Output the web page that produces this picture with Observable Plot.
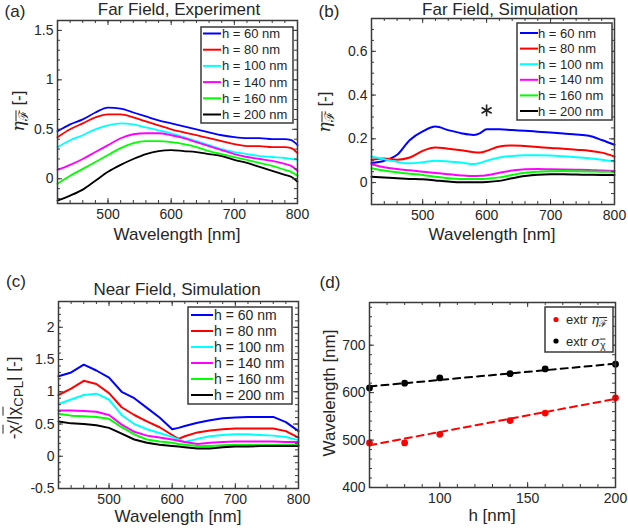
<!DOCTYPE html>
<html><head><meta charset="utf-8">
<script src="https://cdn.jsdelivr.net/npm/d3@7"></script>
<script src="https://cdn.jsdelivr.net/npm/@observablehq/plot@0.6"></script>
<style>
body{margin:0;background:#fff;font-family:"Liberation Sans",Arial,Helvetica,sans-serif;color:#262626}
#fig{position:relative;width:628px;height:531px;overflow:hidden;background:#fff}
#fig svg{position:absolute;left:0;top:0}
.lbl{position:absolute;white-space:nowrap;color:#262626;line-height:1}
.ovl{text-decoration:overline}
sub{font-size:0.78em;vertical-align:-0.35em;line-height:0}
</style></head><body><div id="fig"></div>
<script>
// ---------- data ----------
const hLabels = ["h = 60 nm","h = 80 nm","h = 100 nm","h = 140 nm","h = 160 nm","h = 200 nm"];
const lineColors = ["#0000ff","#ff0000","#00ffff","#ff00ff","#00ff00","#000000"];

// (a) Far field, experiment
const wlA = [420,440,460,480,500,520,540,560,580,600,620,640,660,680,700,720,740,760,780,790,800];
const expH60  = [0.48,0.55,0.60,0.67,0.72,0.71,0.67,0.63,0.59,0.56,0.53,0.50,0.47,0.44,0.42,0.41,0.41,0.40,0.40,0.39,0.34];
const expH80  = [0.42,0.50,0.56,0.62,0.65,0.65,0.62,0.58,0.54,0.50,0.47,0.44,0.41,0.38,0.35,0.33,0.33,0.32,0.32,0.31,0.26];
const expH100 = [0.32,0.39,0.44,0.50,0.54,0.56,0.55,0.52,0.49,0.46,0.42,0.38,0.34,0.30,0.27,0.25,0.23,0.22,0.21,0.20,0.19];
const expH140 = [0.09,0.14,0.20,0.27,0.34,0.41,0.45,0.46,0.46,0.44,0.41,0.37,0.33,0.29,0.25,0.22,0.20,0.18,0.15,0.13,0.08];
const expH160 = [-0.05,0.03,0.10,0.17,0.24,0.31,0.36,0.38,0.38,0.37,0.35,0.32,0.28,0.25,0.22,0.19,0.16,0.13,0.09,0.07,0.03];
const expH200 = [-0.22,-0.17,-0.11,-0.02,0.07,0.14,0.20,0.25,0.28,0.29,0.28,0.27,0.25,0.23,0.19,0.16,0.12,0.08,0.04,0.02,-0.03];

// (b) Far field, simulation
const wlB = [420,440,460,480,500,520,540,560,580,590,600,620,640,660,680,700,720,740,760,780,800];
const simH60  = [0.090,0.100,0.127,0.195,0.234,0.256,0.240,0.226,0.218,0.226,0.244,0.244,0.240,0.237,0.233,0.229,0.224,0.220,0.214,0.195,0.173];
const simH80  = [0.104,0.110,0.105,0.115,0.145,0.160,0.155,0.148,0.139,0.138,0.145,0.165,0.170,0.167,0.163,0.158,0.155,0.150,0.146,0.137,0.119];
const simH100 = [0.119,0.107,0.095,0.088,0.093,0.100,0.097,0.092,0.085,0.090,0.100,0.115,0.122,0.125,0.125,0.124,0.120,0.116,0.111,0.104,0.096];
const simH140 = [0.084,0.070,0.062,0.056,0.050,0.044,0.038,0.033,0.030,0.031,0.034,0.045,0.055,0.061,0.062,0.061,0.060,0.059,0.058,0.055,0.053];
const simH160 = [0.066,0.055,0.047,0.040,0.035,0.027,0.020,0.017,0.017,0.017,0.018,0.024,0.035,0.045,0.050,0.052,0.053,0.052,0.051,0.050,0.050];
const simH200 = [0.027,0.023,0.020,0.017,0.015,0.010,0.005,0.002,0.002,0.002,0.003,0.008,0.020,0.030,0.036,0.038,0.038,0.037,0.036,0.035,0.035];
const starWl = [600];
const starVal = [0.33];

// (c) Near field, simulation
const wlC = [420,440,460,480,500,520,540,560,580,600,610,620,640,660,680,700,720,740,760,780,800];
const nfH60  = [1.24,1.30,1.42,1.33,1.22,1.00,0.90,0.75,0.60,0.42,0.44,0.47,0.52,0.56,0.59,0.60,0.61,0.61,0.61,0.53,0.39];
const nfH80  = [0.95,1.05,1.17,1.12,0.98,0.76,0.64,0.54,0.45,0.33,0.27,0.31,0.37,0.40,0.42,0.43,0.43,0.43,0.43,0.39,0.29];
const nfH100 = [0.81,0.88,0.95,0.97,0.88,0.64,0.50,0.42,0.36,0.30,0.26,0.22,0.27,0.31,0.33,0.34,0.34,0.33,0.32,0.30,0.25];
const nfH140 = [0.71,0.71,0.70,0.69,0.64,0.49,0.38,0.32,0.29,0.26,0.24,0.22,0.19,0.21,0.22,0.23,0.23,0.23,0.23,0.22,0.22];
const nfH160 = [0.66,0.63,0.62,0.61,0.58,0.45,0.34,0.26,0.23,0.21,0.19,0.18,0.16,0.16,0.17,0.18,0.18,0.18,0.18,0.18,0.18];
const nfH200 = [0.54,0.51,0.50,0.48,0.44,0.35,0.26,0.21,0.18,0.16,0.15,0.14,0.12,0.12,0.14,0.15,0.15,0.16,0.16,0.16,0.16];

// (d) extrema wavelength vs h
const hNm = [60,80,100,140,160,200];
const extrEta = [494,494,512,541,557,589];
const extrSigma = [610,620,631,640,650,660];
const fitH = [60,200];
const fitEta = [489,587];
const fitSigma = [613,661];

// ticks
const ticksWl = [500,600,700,800];
const minorWl = d3.range(420,801,20);
const ticksA = [0,0.5,1,1.5];
const minorA = d3.range(-0.2,1.61,0.1).map(v=>+v.toFixed(2));
const ticksB = [0,0.2,0.4,0.6];
const minorB = d3.range(-0.1,0.751,0.05).map(v=>+v.toFixed(2));
const ticksC = [-0.5,0,0.5,1,1.5,2];
const minorC = d3.range(-0.5,2.41,0.1).map(v=>+v.toFixed(2));
const ticksDx = [100,150,200];
const minorDx = d3.range(60,201,10);
const ticksDy = [400,500,600,700];
const minorDy = d3.range(400,781,20);

// ---------- drawing ----------
const fig = document.getElementById("fig");
const W = 628, H = 531;
const FONT = '"Liberation Sans", Arial, Helvetica, sans-serif';
const INK = "#262626", FRAME = "#3a3a3a";

function rows(grid, series){
  return series.flatMap((vals,i)=>vals.map((v,j)=>({x:grid[j], y:v, s:hLabels[i]})));
}

function panel({frame, x, y, xMajor, xMinor, yMajor, yMinor, marks, xPad=6, yPad=4}){
  const [l,t,r,b] = frame;
  const iw = r-l, ih = b-t, M = 5, m = 3;
  const tk = {stroke: FRAME, strokeWidth: 1};
  const plot = Plot.plot({
    width: W, height: H,
    marginLeft: l, marginTop: t, marginRight: W-r, marginBottom: H-b,
    x: {domain: x}, y: {domain: y},
    color: {domain: hLabels, range: lineColors},
    style: {fontFamily: FONT, fontSize: "14px", color: INK, background: "transparent", overflow: "visible"},
    marks: [
      ...marks,
      Plot.tickX(xMinor, {x: d=>d, insetTop: ih-m, ...tk}),
      Plot.tickX(xMinor, {x: d=>d, insetBottom: ih-m, ...tk}),
      Plot.tickX(xMajor, {x: d=>d, insetTop: ih-M, ...tk}),
      Plot.tickX(xMajor, {x: d=>d, insetBottom: ih-M, ...tk}),
      Plot.tickY(yMinor, {y: d=>d, insetRight: iw-m, ...tk}),
      Plot.tickY(yMinor, {y: d=>d, insetLeft: iw-m, ...tk}),
      Plot.tickY(yMajor, {y: d=>d, insetRight: iw-M, ...tk}),
      Plot.tickY(yMajor, {y: d=>d, insetLeft: iw-M, ...tk}),
      Plot.frame({stroke: FRAME, strokeWidth: 1.5}),
      Plot.axisX({ticks: xMajor, tickSize: 0, tickPadding: xPad, tickFormat: d=>String(d), label: null}),
      Plot.axisY({ticks: yMajor, tickSize: 0, tickPadding: yPad, tickFormat: d=>String(d), label: null})
    ]
  });
  fig.appendChild(plot);
  return d3.select(plot);
}

function hLegend(svg, {box, y0, step, x1, x2, tx, size}){
  const g = svg.append("g").attr("text-anchor","start");
  g.append("rect").attr("x",box[0]).attr("y",box[1]).attr("width",box[2]-box[0]).attr("height",box[3]-box[1])
    .attr("fill","#fff").attr("stroke",FRAME).attr("stroke-width",1.5);
  hLabels.forEach((lab,i)=>{
    const yy = y0 + i*step;
    g.append("line").attr("x1",x1).attr("x2",x2).attr("y1",yy).attr("y2",yy)
      .attr("stroke",lineColors[i]).attr("stroke-width",2);
    g.append("text").attr("x",tx).attr("y",yy).attr("dy","0.35em").attr("text-anchor","start")
      .attr("font-size",size).attr("fill",INK).attr("font-family",FONT).text(lab);
  });
}

function label(html, cx, cy, opts={}){
  const d = document.createElement("div");
  d.className = "lbl";
  d.innerHTML = html;
  d.style.left = cx+"px"; d.style.top = cy+"px";
  d.style.fontSize = (opts.size||17)+"px";
  d.style.transform = "translate(-50%,-50%)" + (opts.rotate ? " rotate(-90deg)" : "");
  fig.appendChild(d);
}

// (a)
const svgA = panel({
  frame: [57,20,297,203], x: [420,800], y: [-0.25,1.6],
  xMajor: ticksWl, xMinor: minorWl, yMajor: ticksA, yMinor: minorA,
  marks: [Plot.line(rows(wlA,[expH60,expH80,expH100,expH140,expH160,expH200]),
    {x:"x", y:"y", z:"s", stroke:"s", strokeWidth:1.8, curve:"monotone-x"})]
});
hLegend(svgA, {box:[201,27,293,123], y0:33.5, step:16.2, x1:203, x2:221, tx:222, size:13});

// (b)
const svgB = panel({
  frame: [371,18,614,204], x: [420,800], y: [-0.1,0.75],
  xMajor: ticksWl, xMinor: minorWl, yMajor: ticksB, yMinor: minorB,
  marks: [
    Plot.line(rows(wlB,[simH60,simH80,simH100,simH140,simH160,simH200]),
      {x:"x", y:"y", z:"s", stroke:"s", strokeWidth:2, curve:"monotone-x"}),
    Plot.dot(starWl.map((w,i)=>({w, v:starVal[i]})), {x:"w", y:"v", symbol:"asterisk", r:5.5, stroke:"#222", strokeWidth:1.6})
  ]
});
hLegend(svgB, {box:[517,23,612,120], y0:33, step:15.6, x1:520, x2:538, tx:538, size:13});

// (c)
const svgC = panel({
  frame: [58,301,298,488], x: [420,800], y: [-0.5,2.4],
  xMajor: ticksWl, xMinor: minorWl, yMajor: ticksC, yMinor: minorC,
  marks: [Plot.line(rows(wlC,[nfH60,nfH80,nfH100,nfH140,nfH160,nfH200]),
    {x:"x", y:"y", z:"s", stroke:"s", strokeWidth:2})]
});
hLegend(svgC, {box:[188,307,292,404], y0:315, step:16, x1:191, x2:213, tx:214, size:14});

// (d)
const svgD = panel({
  frame: [369,302,615,487], x: [60,200], y: [400,790],
  xMajor: ticksDx, xMinor: minorDx, yMajor: ticksDy, yMinor: minorDy,
  marks: [
    Plot.line(fitH.map((h,i)=>({h, v:fitSigma[i]})), {x:"h", y:"v", stroke:"#000", strokeWidth:2, strokeDasharray:"7,5"}),
    Plot.line(fitH.map((h,i)=>({h, v:fitEta[i]})), {x:"h", y:"v", stroke:"#ff0000", strokeWidth:2, strokeDasharray:"7,5"}),
    Plot.dot(hNm.map((h,i)=>({h, v:extrSigma[i]})), {x:"h", y:"v", r:3.4, fill:"#000"}),
    Plot.dot(hNm.map((h,i)=>({h, v:extrEta[i]})), {x:"h", y:"v", r:3.4, fill:"#ff0000"})
  ]
});
{
  const g = svgD.append("g").attr("font-family", FONT).attr("fill", INK).attr("text-anchor","start");
  g.append("rect").attr("x",545).attr("y",307).attr("width",68).attr("height",45)
    .attr("fill","#fff").attr("stroke",FRAME).attr("stroke-width",1.5);
  g.append("circle").attr("cx",556).attr("cy",319.5).attr("r",2.6).attr("fill","#ff0000");
  g.append("circle").attr("cx",556).attr("cy",341).attr("r",2.6).attr("fill","#000");
  const t1 = g.append("text").attr("x",566).attr("y",319.5).attr("dy","0.35em").attr("font-size",13);
  t1.append("tspan").text("extr ");
  t1.append("tspan").attr("font-style","italic").attr("font-family","DejaVu Serif, serif").text("η");
  t1.append("tspan").attr("font-size",10).attr("dy",3).attr("text-decoration","overline").text("ℱ");
  const t2 = g.append("text").attr("x",566).attr("y",341).attr("dy","0.35em").attr("font-size",13);
  t2.append("tspan").text("extr ");
  t2.append("tspan").attr("font-style","italic").attr("font-family","DejaVu Serif, serif").text("σ");
  t2.append("tspan").attr("font-size",10).attr("dy",3).attr("text-decoration","overline").text("χ");
}

// text labels
label("(a)", 15, 11);
label("(b)", 329, 11);
label("(c)", 16, 281);
label("(d)", 330, 282);
label("Far Field, Experiment", 179, 9);
label("Far Field, Simulation", 500, 9);
label("Near Field, Simulation", 177, 289);
label("Wavelength [nm]", 177, 234);
label("Wavelength [nm]", 492, 234);
label("Wavelength [nm]", 178, 516);
label("h [nm]", 492, 515);
label('<i style="font-family:DejaVu Serif,serif">η</i><sub><span class="ovl">ℱ</span></sub> [-]', 18, 111, {rotate:true});
label('<i style="font-family:DejaVu Serif,serif">η</i><sub><span class="ovl">ℱ</span></sub> [-]', 324, 112, {rotate:true});
label('-<span class="ovl">χ</span>/|<span class="ovl">χ</span><sub>CPL</sub>| [-]', 13, 398, {rotate:true});
label("Wavelength [nm]", 329, 393, {rotate:true});
</script></body></html>
